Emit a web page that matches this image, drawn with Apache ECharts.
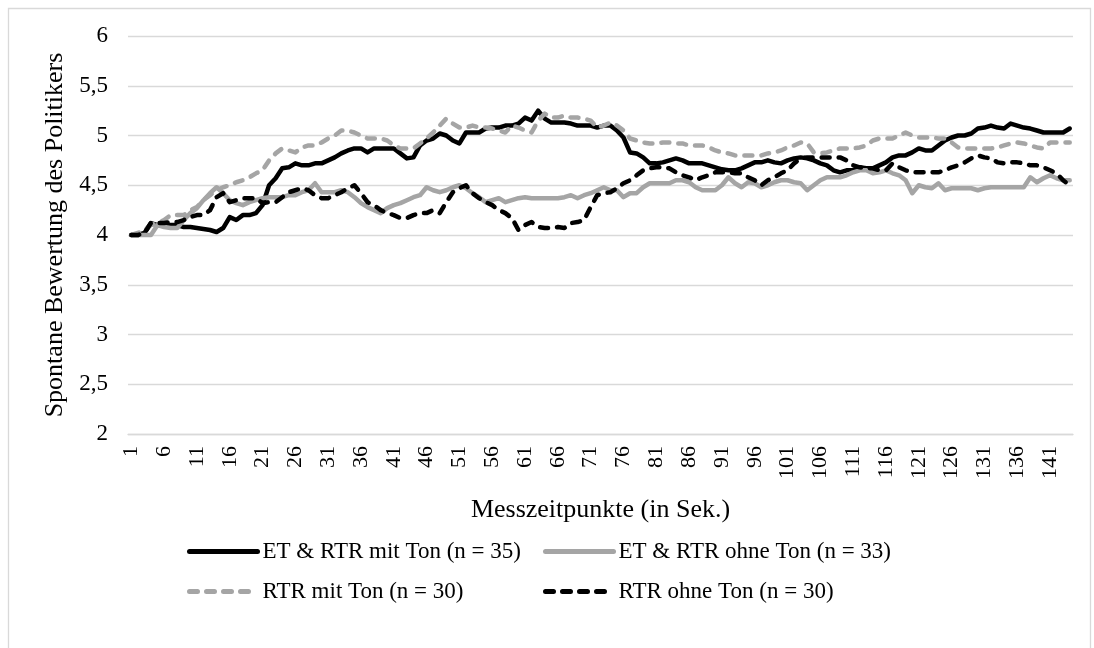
<!DOCTYPE html>
<html><head><meta charset="utf-8">
<script src="https://cdn.jsdelivr.net/npm/echarts@6/dist/echarts.min.js"></script>
<style>html,body{margin:0;padding:0;background:#fff}#c{width:1094px;height:648px}</style>
</head><body><div id="c"></div>
<script>
var categories = [];
for (var k = 1; k <= 144; k++) categories.push(String(k));

var seriesNames = ['ET & RTR mit Ton (n = 35)', 'ET & RTR ohne Ton (n = 33)', 'RTR mit Ton (n = 30)', 'RTR ohne Ton (n = 30)'];

var etRtrMitTon = [
4.00,4.00,4.02,4.12,4.10,4.10,4.10,4.10,4.08,4.08,
4.07,4.06,4.05,4.03,4.07,4.18,4.15,4.20,4.20,4.22,
4.30,4.50,4.57,4.67,4.68,4.72,4.70,4.70,4.72,4.72,
4.75,4.78,4.82,4.85,4.87,4.87,4.83,4.87,4.87,4.87,
4.87,4.82,4.77,4.78,4.90,4.95,4.97,5.02,5.00,4.95,
4.92,5.03,5.03,5.03,5.07,5.08,5.08,5.10,5.10,5.12,
5.18,5.15,5.25,5.17,5.13,5.13,5.13,5.12,5.10,5.10,
5.10,5.08,5.10,5.10,5.05,4.98,4.83,4.82,4.78,4.72,
4.72,4.73,4.75,4.77,4.75,4.72,4.72,4.72,4.70,4.68,
4.66,4.65,4.65,4.67,4.70,4.73,4.73,4.75,4.73,4.72,
4.75,4.77,4.78,4.77,4.75,4.72,4.70,4.65,4.63,4.65,
4.65,4.68,4.67,4.67,4.70,4.73,4.78,4.80,4.80,4.83,
4.87,4.85,4.85,4.90,4.95,4.98,5.00,5.00,5.02,5.07,
5.08,5.10,5.08,5.07,5.12,5.10,5.08,5.07,5.05,5.03,
5.03,5.03,5.03,5.07];

var etRtrOhneTon = [
4.00,4.00,4.00,4.00,4.10,4.08,4.07,4.07,4.15,4.22,
4.27,4.35,4.42,4.48,4.42,4.35,4.32,4.30,4.33,4.35,
4.37,4.38,4.38,4.38,4.40,4.40,4.43,4.45,4.52,4.43,
4.43,4.43,4.45,4.43,4.38,4.32,4.28,4.25,4.22,4.27,
4.30,4.32,4.35,4.38,4.40,4.48,4.45,4.43,4.45,4.48,
4.50,4.47,4.42,4.38,4.33,4.35,4.37,4.33,4.35,4.37,
4.38,4.37,4.37,4.37,4.37,4.37,4.38,4.40,4.37,4.40,
4.42,4.45,4.48,4.45,4.45,4.38,4.42,4.42,4.48,4.52,
4.52,4.52,4.52,4.55,4.55,4.53,4.48,4.45,4.45,4.45,
4.50,4.58,4.52,4.48,4.53,4.52,4.48,4.50,4.53,4.55,
4.55,4.53,4.52,4.45,4.50,4.55,4.58,4.58,4.58,4.60,
4.63,4.65,4.65,4.62,4.63,4.65,4.62,4.60,4.55,4.42,
4.50,4.48,4.47,4.52,4.45,4.47,4.47,4.47,4.47,4.45,
4.47,4.48,4.48,4.48,4.48,4.48,4.48,4.58,4.53,4.57,
4.60,4.57,4.55,4.55];

var rtrMitTon = [
4.00,4.02,4.05,4.10,4.12,4.15,4.20,4.20,4.20,4.25,
4.28,4.35,4.40,4.45,4.48,4.50,4.53,4.55,4.58,4.62,
4.65,4.75,4.82,4.87,4.85,4.83,4.88,4.90,4.90,4.93,
4.97,5.00,5.05,5.05,5.03,5.00,4.97,4.97,4.97,4.95,
4.90,4.87,4.87,4.87,4.92,4.97,5.03,5.10,5.17,5.12,
5.08,5.08,5.10,5.08,5.08,5.07,5.05,5.03,5.10,5.08,
5.05,5.03,5.15,5.22,5.18,5.18,5.20,5.18,5.18,5.17,
5.15,5.08,5.10,5.13,5.10,5.05,4.97,4.95,4.93,4.92,
4.92,4.93,4.93,4.92,4.92,4.90,4.90,4.90,4.88,4.85,
4.83,4.82,4.80,4.80,4.80,4.80,4.80,4.82,4.83,4.85,
4.88,4.90,4.93,4.92,4.83,4.82,4.83,4.85,4.87,4.87,
4.87,4.88,4.90,4.95,4.97,4.97,4.97,5.00,5.03,5.00,
4.98,4.98,4.98,4.97,4.97,4.93,4.88,4.87,4.87,4.87,
4.87,4.87,4.88,4.90,4.92,4.93,4.92,4.90,4.88,4.87,
4.93,4.93,4.93,4.93];

var rtrOhneTon = [
4.00,4.00,4.02,4.12,4.12,4.12,4.13,4.13,4.15,4.18,
4.20,4.20,4.25,4.38,4.42,4.33,4.35,4.37,4.37,4.37,
4.32,4.33,4.33,4.38,4.43,4.45,4.47,4.45,4.40,4.37,
4.37,4.40,4.43,4.47,4.50,4.42,4.33,4.30,4.25,4.22,
4.20,4.17,4.17,4.20,4.22,4.22,4.25,4.22,4.33,4.43,
4.47,4.50,4.42,4.37,4.33,4.30,4.25,4.22,4.17,4.05,
4.10,4.13,4.08,4.07,4.07,4.08,4.07,4.12,4.13,4.15,
4.28,4.40,4.42,4.43,4.47,4.52,4.55,4.60,4.65,4.67,
4.68,4.68,4.67,4.63,4.60,4.58,4.55,4.58,4.60,4.63,
4.63,4.63,4.62,4.62,4.58,4.55,4.50,4.55,4.58,4.62,
4.65,4.72,4.77,4.78,4.78,4.78,4.78,4.78,4.78,4.75,
4.70,4.68,4.67,4.67,4.65,4.65,4.72,4.68,4.65,4.63,
4.63,4.63,4.63,4.63,4.65,4.68,4.70,4.73,4.77,4.80,
4.78,4.77,4.73,4.72,4.73,4.73,4.72,4.70,4.70,4.68,
4.65,4.62,4.55,4.50];

var yTicks = ['2','2,5','3','3,5','4','4,5','5','5,5','6'];

var FONT = '"Liberation Serif", "Times New Roman", serif';
var BLACK = '#000000', GRAY = '#a5a5a5';

function mkSeries(name, data, color, dashed, z) {
  return {
    name: name, type: 'line', data: data, symbol: 'none', showSymbol: false, z: z,
    lineStyle: { color: color, width: 4.5, type: dashed ? [8, 9] : 'solid', cap: 'round', join: 'round' },
    itemStyle: { color: color },
    emphasis: { disabled: true }
  };
}

function mkLegend(names, left) {
  return {
    data: names, orient: 'vertical', left: left, top: 540, itemGap: 17, padding: 0,
    itemWidth: 68, itemHeight: 14,
    itemStyle: { opacity: 0 },
    lineStyle: { width: 5 },
    textStyle: { fontFamily: FONT, fontSize: 23, color: '#000' },
    selectedMode: false
  };
}

var chart = echarts.init(document.getElementById('c'), null, { renderer: 'canvas' });
chart.setOption({
  animation: false,
  backgroundColor: '#ffffff',
  textStyle: { fontFamily: FONT, color: '#000' },
  graphic: [{
    type: 'rect', left: 6, top: 6, shape: { width: 1082, height: 660 },
    style: { fill: 'none', stroke: '#d9d9d9', lineWidth: 1.3 }, silent: true, z: -10
  }],
  grid: { left: 128, right: 21, top: 36, bottom: 214, containLabel: false },
  xAxis: {
    type: 'category', data: categories, boundaryGap: true,
    axisLine: { show: true, lineStyle: { color: '#d9d9d9', width: 1.3 } },
    axisTick: { show: false },
    axisLabel: { interval: 4, rotate: 90, fontFamily: FONT, fontSize: 22, color: '#000', margin: 12 },
    name: 'Messzeitpunkte (in Sek.)', nameLocation: 'middle', nameGap: 63,
    nameTextStyle: { fontFamily: FONT, fontSize: 26, color: '#000' }
  },
  yAxis: {
    type: 'value', min: 2, max: 6, interval: 0.5,
    axisLine: { show: false }, axisTick: { show: false },
    splitLine: { lineStyle: { color: '#d9d9d9', width: 1.3 } },
    axisLabel: {
      fontFamily: FONT, fontSize: 23, color: '#000', margin: 20,
      formatter: function (v) { var i = Math.round((v - 2) / 0.5); return yTicks[i]; }
    },
    name: 'Spontane Bewertung des Politikers', nameLocation: 'middle', nameGap: 60,
    nameTextStyle: { fontFamily: FONT, fontSize: 26, color: '#000' }
  },
  legend: [
    mkLegend([seriesNames[0], seriesNames[2]], 187),
    mkLegend([seriesNames[1], seriesNames[3]], 543)
  ],
  series: [
    mkSeries(seriesNames[0], etRtrMitTon, BLACK, false, 2),
    mkSeries(seriesNames[1], etRtrOhneTon, GRAY, false, 3),
    mkSeries(seriesNames[2], rtrMitTon, GRAY, true, 4),
    mkSeries(seriesNames[3], rtrOhneTon, BLACK, true, 5)
  ]
});
</script>
</body></html>
